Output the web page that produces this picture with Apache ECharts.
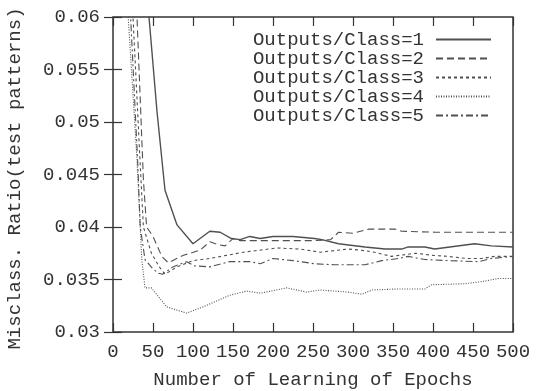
<!DOCTYPE html>
<html>
<head>
<meta charset="utf-8">
<script src="https://cdn.jsdelivr.net/npm/echarts@6/dist/echarts.min.js"></script>
<style>
  html, body { margin: 0; padding: 0; background: #fff; }
  #chart { width: 536px; height: 391px; }
</style>
</head>
<body>
<div id="chart"></div>
<script>
// Data: [epoch, misclassification ratio]
const seriesNames = ['Outputs/Class=1', 'Outputs/Class=2', 'Outputs/Class=3', 'Outputs/Class=4', 'Outputs/Class=5'];

const class1 = [[40, 0.064], [45, 0.06], [55, 0.051], [65, 0.0435], [80, 0.0402], [100, 0.0384], [121, 0.0396],
  [134, 0.0395], [148, 0.0389], [159, 0.0388], [171, 0.0391], [184, 0.0389], [200, 0.0391], [225, 0.0391],
  [252, 0.0389], [261, 0.0388], [282, 0.0384], [315, 0.0381], [340, 0.0379], [361, 0.0379], [369, 0.0381],
  [390, 0.0381], [402, 0.0379], [452, 0.0384], [473, 0.0382], [500, 0.0381]];

const class2 = [[27, 0.065], [30, 0.06], [38, 0.0445], [42, 0.040], [50, 0.0391], [61, 0.0372], [69, 0.0366],
  [88, 0.0373], [109, 0.0378], [121, 0.0386], [132, 0.0383], [140, 0.0382], [150, 0.0389], [159, 0.0387],
  [200, 0.0387], [252, 0.0387], [272, 0.0388], [282, 0.0395], [300, 0.0394], [320, 0.0398], [352, 0.0398],
  [361, 0.0396], [403, 0.0395], [500, 0.0395]];

const class3 = [[22, 0.065], [25, 0.06], [34, 0.046], [38, 0.040], [48, 0.0375], [58, 0.0362], [65, 0.0355],
  [80, 0.0362], [100, 0.0368], [121, 0.037], [142, 0.0373], [163, 0.0376], [205, 0.038], [234, 0.0379],
  [259, 0.0376], [294, 0.0379], [309, 0.0378], [327, 0.0376], [348, 0.0372], [378, 0.0375], [400, 0.0373],
  [419, 0.0372], [442, 0.037], [461, 0.037], [477, 0.0372], [500, 0.0372]];

const class4 = [[15, 0.065], [19, 0.06], [30, 0.0464], [36, 0.0369], [40, 0.0342], [48, 0.0342], [67, 0.0324],
  [92, 0.0318], [113, 0.0324], [146, 0.0335], [167, 0.0339], [184, 0.0337], [217, 0.0342], [242, 0.0338],
  [259, 0.034], [294, 0.0338], [311, 0.0336], [324, 0.034], [357, 0.0341], [390, 0.0341], [398, 0.0345],
  [440, 0.0346], [461, 0.0348], [482, 0.0351], [500, 0.0351]];

const class5 = [[18, 0.065], [22, 0.06], [31, 0.046], [34, 0.040], [40, 0.0369], [50, 0.036], [57, 0.0356],
  [62, 0.0355], [75, 0.0362], [92, 0.0367], [102, 0.0363], [121, 0.0362], [146, 0.0367], [171, 0.0367],
  [184, 0.0365], [200, 0.037], [225, 0.0368], [252, 0.0365], [277, 0.0364], [315, 0.0364], [336, 0.0368],
  [357, 0.037], [369, 0.0372], [390, 0.0369], [419, 0.0368], [457, 0.0367], [473, 0.037], [500, 0.0372]];

const yTickLabels = ['0.03', '0.035', '0.04', '0.045', '0.05', '0.055', '0.06'];

const FONT = 'Liberation Mono';
const FONT_SIZE = 19;
const TEXT = '#333';
const LINE = '#505050';

const dashes = ['solid', [7, 4], [3, 3], [1, 1.5], [7, 3, 2, 3]];
const widths = [1.4, 1.1, 1.1, 1.1, 1.1];
const dataSets = [class1, class2, class3, class4, class5];

const chart = echarts.init(document.getElementById('chart'));

const tickStyle = { show: true, inside: true, length: 9, lineStyle: { color: '#333', width: 1.2 } };

chart.setOption({
  animation: false,
  grid: {
    left: 113, right: 23, top: 17, bottom: 59,
    outerBoundsMode: 'none',
    show: true, borderColor: '#333', borderWidth: 1.5
  },
  legend: {
    orient: 'vertical',
    right: 39, top: 25,
    align: 'right',
    itemWidth: 55, itemHeight: 10, itemGap: 0,
    itemStyle: { opacity: 0, borderWidth: 0 },
    textStyle: { fontFamily: FONT, fontSize: FONT_SIZE, color: TEXT, padding: [0, 7, 0, 0] },
    data: seriesNames
  },
  xAxis: [{
    type: 'value', min: 0, max: 500, interval: 50,
    name: 'Number of Learning of Epochs', nameLocation: 'middle', nameGap: 38,
    nameTextStyle: { fontFamily: FONT, fontSize: FONT_SIZE, color: TEXT },
    axisLine: { show: false },
    axisTick: tickStyle,
    splitLine: { show: false },
    axisLabel: { fontFamily: FONT, fontSize: FONT_SIZE, color: TEXT, margin: 10 }
  }, {
    type: 'value', min: 0, max: 500, interval: 50, position: 'top',
    axisLine: { show: false }, axisTick: tickStyle, axisLabel: { show: false }, splitLine: { show: false }
  }],
  yAxis: [{
    type: 'value', min: 0.03, max: 0.06, interval: 0.005,
    name: 'Misclass. Ratio(test patterns)', nameLocation: 'middle', nameGap: 89,
    nameTextStyle: { fontFamily: FONT, fontSize: FONT_SIZE, color: TEXT, padding: [0, 8, 0, 0] },
    axisLine: { show: false },
    axisTick: tickStyle,
    splitLine: { show: false },
    axisLabel: {
      fontFamily: FONT, fontSize: FONT_SIZE, color: TEXT, margin: 13,
      formatter: (v) => yTickLabels[Math.round((v - 0.03) / 0.005)]
    }
  }, {
    type: 'value', min: 0.03, max: 0.06, interval: 0.005, position: 'right',
    axisLine: { show: false }, axisTick: tickStyle, axisLabel: { show: false }, splitLine: { show: false }
  }],
  series: dataSets.map((d, i) => ({
    name: seriesNames[i],
    type: 'line',
    data: d,
    symbol: 'none',
    clip: true,
    lineStyle: { color: LINE, width: widths[i], type: dashes[i] },
    itemStyle: { color: LINE }
  }))
});
</script>
</body>
</html>
